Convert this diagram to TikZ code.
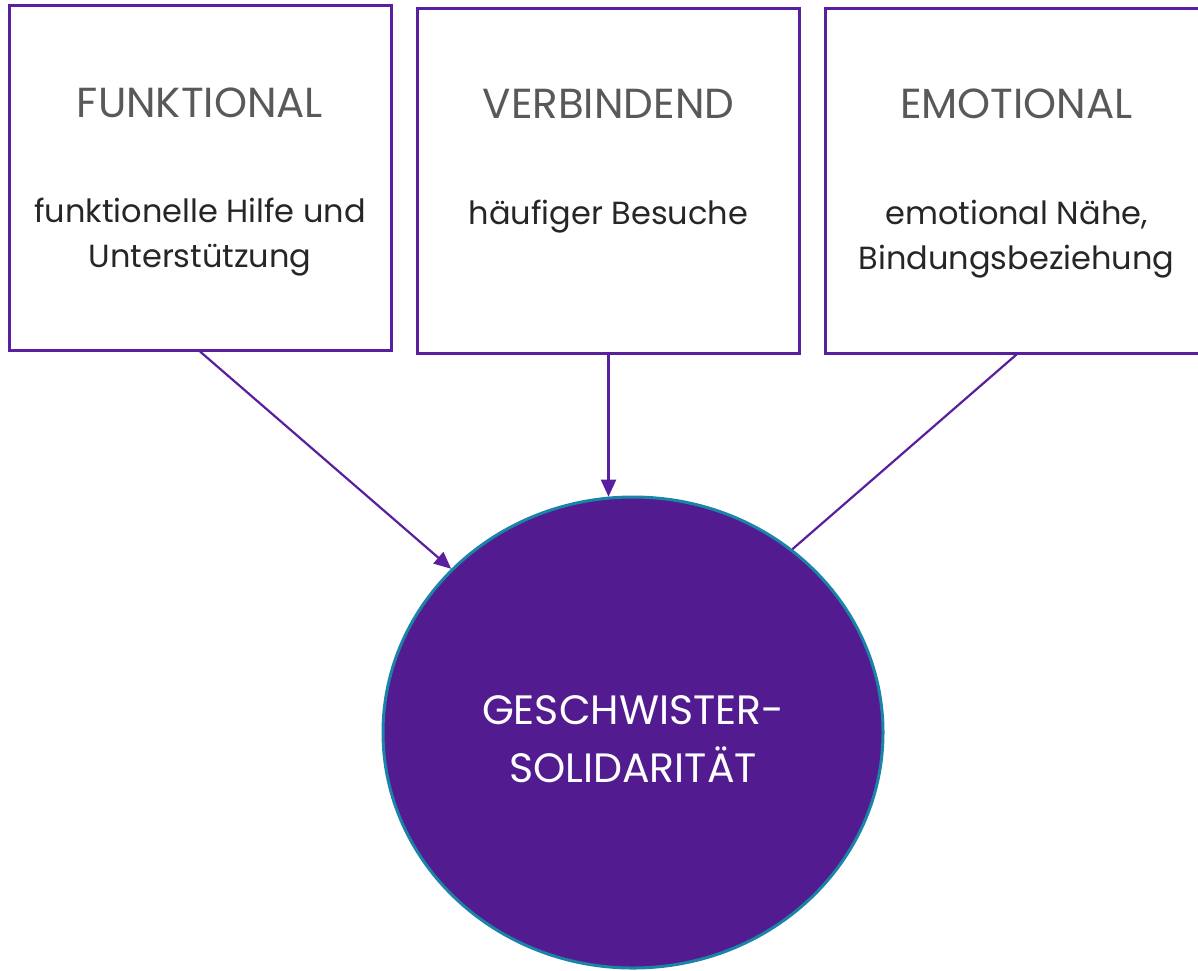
\documentclass[tikz,border=0pt]{standalone}
\usepackage{fontspec}
\setmainfont{Poppins}
\usetikzlibrary{positioning, arrows.meta, shapes.geometric, calc}

\definecolor{boxline}{HTML}{5A1F9E}
\definecolor{solfill}{HTML}{521B8F}
\definecolor{solline}{HTML}{1A84A8}
\definecolor{titlegray}{HTML}{595959}
\definecolor{bodygray}{HTML}{262626}

\begin{document}
\begin{tikzpicture}[
    x=1pt, y=-1pt,
    aspectbox/.style={draw=boxline, line width=3pt, minimum width=382pt, minimum height=345pt, inner sep=0pt},
    aspecttitle/.style={text=titlegray, font=\fontsize{42}{50}\selectfont},
    aspectbody/.style={text=bodygray, align=center, font=\fontsize{32}{45}\selectfont},
    arrow/.style={-{Triangle[length=17pt, width=15pt]}, draw=boxline, line width=2.2pt}]

    \useasboundingbox (0, 0) rectangle (1198, 970);

    % Boxes
    \node[aspectbox] (funk) at (200, 177.5) {};
    \node[aspectbox] (verb) at (608.5, 180.5) {};
    \node[aspectbox] (emot) at (1016.5, 180.5) {};

    % Box texts
    \node[aspecttitle] (funkT) at ([yshift=-99pt]funk.north) {FUNKTIONAL};
    \node[aspecttitle] (verbT) at ([yshift=-97pt]verb.north) {VERBINDEND};
    \node[aspecttitle] (emotT) at ([yshift=-97pt]emot.north) {EMOTIONAL};
    \node[aspectbody] (funkB) at ([yshift=-234pt]funk.north) {funktionelle Hilfe und\\Unterstützung};
    \node[aspectbody] (verbB) at ([yshift=-210pt]verb.north) {häufiger Besuche};
    \node[aspectbody] (emotB) at ([yshift=-233pt]emot.north) {emotional Nähe,\\Bindungsbeziehung};

    % Solidarity
    \node[ellipse, fill=solfill, draw=solline, line width=3pt, minimum width=500pt, minimum height=471pt,
          inner sep=0pt] (sol) at (633, 732.5) {};
    \node[text=white, align=center, font=\fontsize{41}{58}\selectfont] (solT) at ([yshift=-7pt]sol.center)
          {GESCHWISTER-\\SOLIDARITÄT};

    % Connectors
    \draw[arrow] (funk.south) -- (sol.138);
    \draw[arrow] (verb.south) -- (verb.south |- sol.96);
    \draw[draw=boxline, line width=2.2pt] (emot.south) -- (sol.49);

\end{tikzpicture}
\end{document}
